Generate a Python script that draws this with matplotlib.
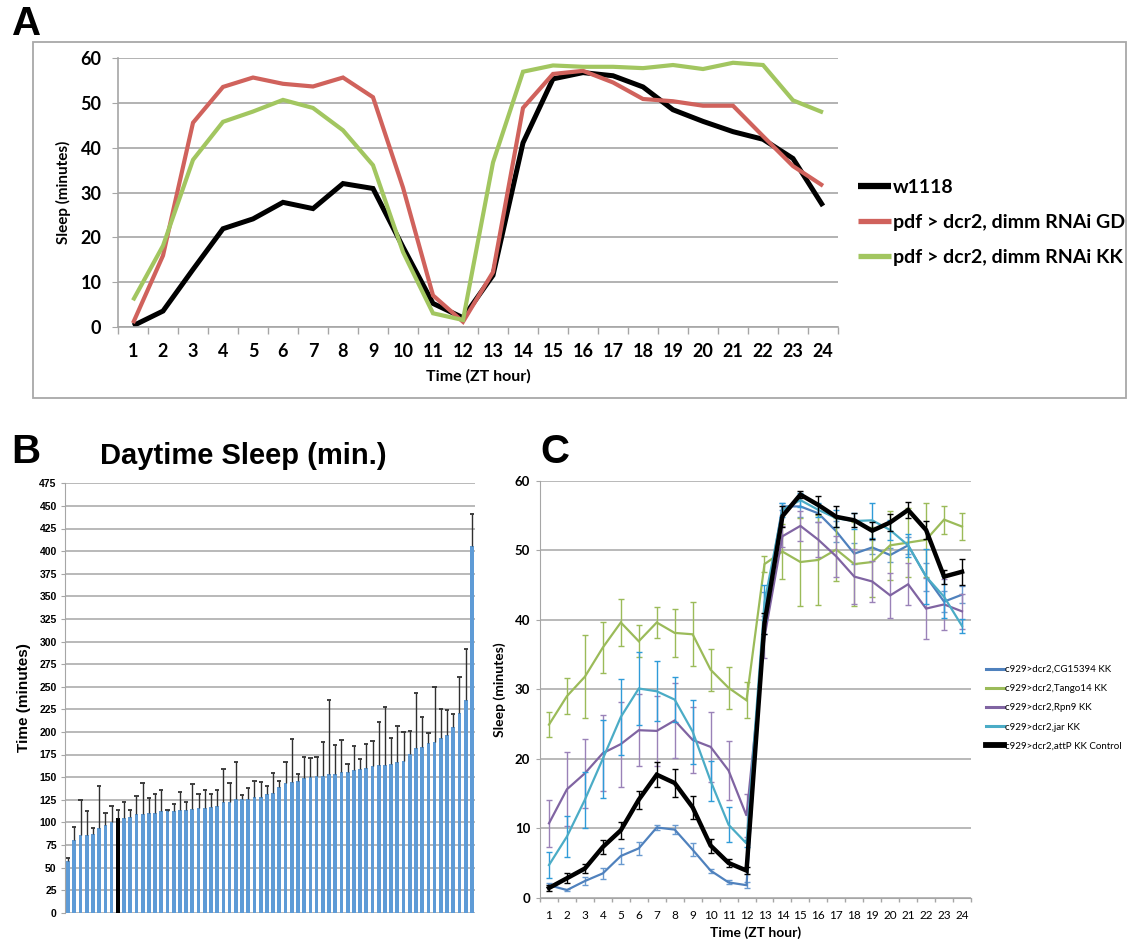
import numpy as np
import matplotlib
matplotlib.use("Agg")
import matplotlib.pyplot as plt


# ==========================================================
# DATOS
# ==========================================================

horas = list(range(1, 25))

# --- Panel A ---
a_w1118 = [0.2, 3.5, 12.8, 21.9, 24.1, 27.8, 26.4, 32.0, 30.9, 17.8, 5.2, 2.0,
           11.5, 41.1, 55.4, 56.8, 56.1, 53.6, 48.5, 45.9, 43.6, 41.9, 37.6, 27.0]
a_gd = [0.8, 15.9, 45.6, 53.6, 55.7, 54.3, 53.7, 55.7, 51.3, 31.1, 7.0, 1.1,
        12.2, 48.9, 56.5, 57.2, 54.6, 50.9, 50.4, 49.4, 49.4, 42.6, 35.9, 31.5]
a_kk = [5.9, 18.1, 37.3, 45.8, 48.1, 50.7, 48.9, 43.9, 36.1, 16.7, 3.0, 1.5,
        36.7, 57.0, 58.4, 58.1, 58.1, 57.8, 58.5, 57.6, 59.0, 58.5, 50.6, 47.9]
a_etiquetas = ["w1118", "pdf > dcr2, dimm RNAi GD", "pdf > dcr2, dimm RNAi KK"]

# --- Panel B ---
b_medias = [57, 80, 86.5, 86, 87.5, 94, 96.5, 100.5, 105, 105, 106, 109, 109,
            110, 110, 112, 113, 113, 114, 114, 114.7, 115.8, 116, 117, 118.4,
            122, 123, 125.4, 125.7, 126, 128, 128.3, 131, 132.5, 139.4, 143,
            145, 145.6, 149, 150, 151, 151.5, 153, 153, 156, 156, 157.4, 158.5,
            160, 162.6, 163.5, 163.3, 164.4, 166.7, 168, 176, 181.8, 183.6,
            187.7, 188.8, 192.8, 196.5, 205, 220.5, 234.9, 405.6]
b_errores = [4, 14.5, 38.5, 26, 6.5, 46, 13.5, 17.5, 9, 17, 8, 20, 34, 17, 21,
             24, 1, 7, 19, 8, 28, 15, 20, 14, 17, 37, 20, 41, 5, 11.5, 17.5,
             16, 9, 22.5, 6.6, 24, 47, 7.4, 23, 21, 21, 37.5, 82, 32, 35, 8,
             26.6, 11, 27, 27.5, 47, 64.7, 28.4, 40.3, 31.5, 25, 60.8, 32.4,
             10.7, 61.2, 32.8, 27.3, 14.4, 40.5, 57, 35.4]
b_control = 8   # barra negra

# --- Panel C ---
c_cg15394 = [1.8, 1.1, 2.4, 3.5, 6.0, 7.1, 10.1, 9.8, 6.9, 3.9, 2.2, 1.8,
             41.0, 56.3, 56.3, 55.3, 52.7, 49.5, 50.4, 49.3, 50.7, 46.2, 42.6, 43.6]
c_cg15394_err = [0.3, 0.2, 0.6, 0.8, 1.1, 0.9, 0.3, 0.6, 0.9, 0.3, 0.3, 0.4,
                 3.0, 0.5, 1.5, 1.2, 1.5, 1.5, 1.0, 1.0, 1.2, 2.0, 1.5, 1.2]
c_tango14 = [24.9, 29.0, 31.8, 36.0, 39.6, 36.9, 39.6, 38.1, 37.9, 32.8, 30.2, 28.4,
             48.0, 49.8, 48.3, 48.6, 50.1, 48.0, 48.3, 50.7, 51.1, 51.5, 54.4, 53.4]
c_tango14_err = [1.8, 2.6, 6.0, 3.6, 3.4, 2.3, 2.2, 3.4, 4.6, 3.0, 3.0, 2.6,
                 1.2, 4.0, 6.3, 6.5, 4.5, 6.0, 5.0, 5.0, 5.0, 5.3, 2.0, 2.0]
c_rpn9 = [10.7, 15.6, 17.9, 20.8, 22.1, 24.1, 24.0, 25.5, 22.7, 21.7, 18.3, 11.8,
          37.5, 52.0, 53.5, 51.5, 49.1, 46.2, 45.5, 43.5, 45.1, 41.6, 42.2, 41.2]
c_rpn9_err = [3.4, 5.3, 5.0, 5.5, 6.1, 5.2, 5.0, 5.4, 4.8, 5.0, 4.3, 3.1,
              3.0, 1.5, 2.2, 2.5, 3.0, 4.0, 3.0, 3.2, 3.0, 4.4, 3.7, 2.5]
c_jar = [4.7, 8.8, 14.1, 20.0, 26.0, 30.1, 29.7, 28.5, 23.9, 16.8, 10.5, 7.8,
         42.5, 55.8, 57.2, 55.8, 54.6, 54.2, 54.3, 52.9, 50.7, 46.2, 43.3, 39.1]
c_jar_err = [1.9, 2.9, 4.0, 5.6, 5.5, 5.3, 4.3, 3.2, 4.6, 2.9, 2.5, 0.5,
             2.5, 1.0, 1.0, 1.0, 1.2, 1.2, 2.5, 1.5, 1.7, 4.0, 3.0, 1.0]
c_attp = [1.4, 2.8, 4.2, 7.3, 9.7, 14.1, 17.7, 16.5, 13.0, 7.5, 5.0, 3.9,
          39.5, 54.9, 58.0, 56.5, 54.8, 54.3, 52.8, 54.0, 55.8, 52.9, 46.2, 46.9]
c_attp_err = [0.4, 0.7, 0.7, 1.0, 1.2, 1.3, 1.8, 2.0, 1.7, 1.0, 0.6, 0.5,
              1.5, 1.5, 0.5, 1.3, 1.5, 1.0, 1.2, 1.2, 1.2, 1.3, 1.0, 1.9]
c_etiquetas = ["c929>dcr2,CG15394 KK", "c929>dcr2,Tango14 KK",
               "c929>dcr2,Rpn9 KK", "c929>dcr2,jar KK",
               "c929>dcr2,attP KK Control"]


# ==========================================================
# FIGURA
# ==========================================================

W, H = 1128, 942
fig = plt.figure(figsize=(W / 100, H / 100), dpi=100)
fig.patch.set_facecolor("white")


def caja(x0, y0, x1, y1):
    # posicion en pixeles -> fraccion de figura
    return [x0 / W, 1 - y1 / H, (x1 - x0) / W, (y1 - y0) / H]


GRIS = "#A6A6A6"
FUENTE = "Lato"


# ==========================================================
# PANEL A
# ==========================================================

fig.patches.append(plt.Rectangle((33 / W, 1 - 398 / H), (1126 - 33) / W,
                                 (398 - 42) / H, transform=fig.transFigure,
                                 fill=False, edgecolor="#A8A8A8", lw=1.3))

ax_a = fig.add_axes(caja(118, 58.3, 838, 326.7))

lineas_a = []
for serie, color, lw in [(a_w1118, "black", 3.6),
                         (a_gd, "#D0625C", 3.0),
                         (a_kk, "#A2C660", 3.0)]:
    l, = ax_a.plot(horas, serie, color=color, lw=lw, solid_joinstyle="miter",
                   solid_capstyle="butt")
    lineas_a.append(l)

ax_a.set_xlim(0.5, 24.5)
ax_a.set_ylim(0, 60)
ax_a.set_yticks(range(0, 61, 10))
ax_a.set_xticks(horas)
ax_a.set_xticks(np.arange(0.5, 25, 1), minor=True)
ax_a.tick_params(axis="x", which="major", length=0, pad=12)
ax_a.tick_params(axis="x", which="minor", length=5, color=GRIS, width=1)
ax_a.tick_params(axis="y", length=4, color=GRIS, pad=8)
for lab in ax_a.get_xticklabels() + ax_a.get_yticklabels():
    lab.set_fontfamily(FUENTE)
    lab.set_fontweight("bold")
    lab.set_fontsize(13)
ax_a.yaxis.grid(True, color=GRIS, lw=1.2)
ax_a.set_axisbelow(True)
for s in ["top", "right"]:
    ax_a.spines[s].set_visible(False)
for s in ["left", "bottom"]:
    ax_a.spines[s].set_color(GRIS)
    ax_a.spines[s].set_linewidth(1.2)
ax_a.set_ylabel("Sleep (minutes)", fontfamily=FUENTE, fontweight="bold",
                fontsize=11, labelpad=7)
ax_a.set_xlabel("Time (ZT hour)", fontfamily=FUENTE, fontweight="bold",
                fontsize=11.5, labelpad=6)

leg_a = fig.legend(lineas_a, a_etiquetas, loc="upper left",
                   bbox_to_anchor=(858 / W, 1 - 179 / H), frameon=False,
                   prop={"family": FUENTE, "weight": "bold", "size": 14},
                   handlelength=1.7, handletextpad=0.1, labelspacing=0.92,
                   borderpad=0, borderaxespad=0)
for h, lw in zip(leg_a.get_lines(), [4.5, 3.8, 3.8]):
    h.set_linewidth(lw)


# ==========================================================
# PANEL B
# ==========================================================

ax_b = fig.add_axes(caja(65, 483.3, 475, 912.7))

x_b = np.arange(len(b_medias))
medias = np.array(b_medias)
errores = np.array(b_errores)
colores_b = ["#5E9BD6"] * len(b_medias)
colores_b[b_control] = "black"

ax_b.bar(x_b, medias, width=0.6, color=colores_b, zorder=2)
ax_b.vlines(x_b, medias, medias + errores, color="#303030", lw=1, zorder=3)
ax_b.hlines(medias + errores, x_b - 0.35, x_b + 0.35, color="#303030",
            lw=1.3, zorder=3)

ax_b.set_xlim(-0.5, len(b_medias) - 0.5)
ax_b.set_ylim(0, 475)
ax_b.set_yticks(range(0, 476, 25))
ax_b.set_xticks([])
ax_b.tick_params(axis="y", length=3, color=GRIS, pad=3, labelsize=7.5)
for lab in ax_b.get_yticklabels():
    lab.set_fontfamily("Liberation Sans")
    lab.set_fontweight("bold")
ax_b.yaxis.grid(True, color=GRIS, lw=1.1)
ax_b.set_axisbelow(True)
for s in ["top", "right", "bottom"]:
    ax_b.spines[s].set_visible(False)
ax_b.spines["left"].set_color(GRIS)
ax_b.set_ylabel("Time (minutes)", fontfamily="Liberation Sans",
                fontweight="bold", fontsize=11, labelpad=6)

fig.text(243 / W, 1 - 464 / H, "Daytime Sleep (min.)",
         fontfamily="Liberation Sans", fontweight="bold", fontsize=21,
         ha="center", va="baseline")


# ==========================================================
# PANEL C
# ==========================================================

ax_c = fig.add_axes(caja(540, 480.7, 971, 897.7))

series_c = [
    (c_cg15394, c_cg15394_err, "#4F81BD", "#6A9AD0", 1.6),
    (c_tango14, c_tango14_err, "#9BBB59", "#9BBB59", 1.6),
    (c_rpn9, c_rpn9_err, "#8064A2", "#9A82B8", 1.6),
    (c_jar, c_jar_err, "#4BACC6", "#2F9BD8", 1.6),
    (c_attp, c_attp_err, "black", "black", 3.2),
]
lineas_c = []
for i, (serie, err, color, ecolor, lw) in enumerate(series_c):
    ax_c.errorbar(horas, serie, yerr=err, fmt="none", ecolor=ecolor,
                  elinewidth=1, capsize=2.5, capthick=1, zorder=3 + i)
    l, = ax_c.plot(horas, serie, color=color, lw=lw, zorder=3 + i,
                   solid_joinstyle="miter")
    lineas_c.append(l)

ax_c.set_xlim(0.5, 24.5)
ax_c.set_ylim(0, 60)
ax_c.set_yticks(range(0, 61, 10))
ax_c.set_xticks(horas)
ax_c.set_xticks(np.arange(0.5, 25, 1), minor=True)
ax_c.tick_params(axis="x", which="major", length=0, pad=9, labelsize=8.5)
ax_c.tick_params(axis="x", which="minor", length=3, color=GRIS, width=1)
ax_c.tick_params(axis="y", length=3, color=GRIS, pad=4, labelsize=9.5)
for lab in ax_c.get_xticklabels():
    lab.set_fontfamily(FUENTE)
for lab in ax_c.get_yticklabels():
    lab.set_fontfamily(FUENTE)
    lab.set_fontweight("bold")
ax_c.yaxis.grid(True, color=GRIS, lw=1.1)
ax_c.set_axisbelow(True)
for s in ["top", "right"]:
    ax_c.spines[s].set_visible(False)
for s in ["left", "bottom"]:
    ax_c.spines[s].set_color(GRIS)
ax_c.set_ylabel("Sleep (minutes)", fontfamily=FUENTE, fontweight="bold",
                fontsize=10, labelpad=6)
ax_c.set_xlabel("Time (ZT hour)", fontfamily=FUENTE, fontweight="bold",
                fontsize=10, labelpad=4)

leg_c = fig.legend(lineas_c, c_etiquetas, loc="upper left",
                   bbox_to_anchor=(986 / W, 1 - 665 / H), frameon=False,
                   prop={"family": FUENTE, "size": 7},
                   handlelength=1.9, handletextpad=0.1, labelspacing=1.05,
                   borderpad=0, borderaxespad=0)
for h, lw in zip(leg_c.get_lines(), [2.2, 2.2, 2.2, 2.2, 4.2]):
    h.set_linewidth(lw)


# ==========================================================
# LETRAS DE PANEL
# ==========================================================

for letra, x, y in [("A", 12, 35), ("B", 11, 463), ("C", 540, 463)]:
    fig.text(x / W, 1 - y / H, letra, fontfamily="Liberation Sans",
             fontweight="bold", fontsize=29, ha="left", va="baseline")

fig.savefig("out.png", dpi=100)
